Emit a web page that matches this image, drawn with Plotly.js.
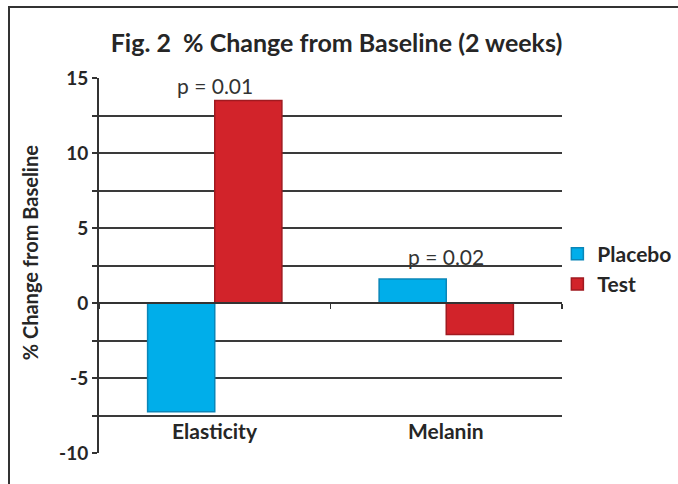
<!DOCTYPE html>
<html>
<head>
<meta charset="utf-8">
<script src="https://cdn.plot.ly/plotly-3.0.1.min.js"></script>
<style>
  html, body { margin: 0; padding: 0; overflow: hidden; background: #fff; }
  #chart { position: absolute; left: 0; top: 0; width: 678px; height: 484px; }
  #frame { position: absolute; left: 8px; top: 6px; width: 700px; height: 500px;
           border: 2px solid #333; pointer-events: none; }
</style>
</head>
<body>
<div id="chart"></div>
<div id="frame"></div>
<script>
// ---- data ----
const categories = ['Elasticity', 'Melanin'];
const placebo = [-7.25, 1.6];
const test = [13.5, -2.1];
const seriesNames = ['Placebo', 'Test'];
const pLabels = ['p = 0.01', 'p = 0.02'];
const pY = [14.5, 3.1];
const categoryLabelY = -8.5;
const yTickVals = [-10, -7.5, -5, -2.5, 0, 2.5, 5, 7.5, 10, 12.5, 15];
const yTickText = ['-10', '', '-5', '', '0', '', '5', '', '10', '', '15'];

const FONT = 'Lato, "DejaVu Sans", sans-serif';
const DARK = '#262626';

const traces = [
  {
    type: 'bar', name: seriesNames[0], x: categories, y: placebo,
    marker: { color: '#00AEEA', line: { color: '#0A86B8', width: 1.5 } }
  },
  {
    type: 'bar', name: seriesNames[1], x: categories, y: test,
    marker: { color: '#D2232A', line: { color: '#A01A20', width: 1.5 } }
  }
];

const annotations = [];
categories.forEach((c, i) => {
  annotations.push({
    x: c, y: pY[i], xref: 'x', yref: 'y', text: pLabels[i], showarrow: false,
    font: { family: FONT, size: 21, color: '#333', weight: 'normal' }, yanchor: 'middle'
  });
  annotations.push({
    x: c, y: categoryLabelY, xref: 'x', yref: 'y', text: '<b>' + c + '</b>', showarrow: false,
    font: { family: FONT, size: 21, color: DARK }, yanchor: 'middle'
  });
});

const layout = {
  width: 678, height: 484,
  margin: { l: 99, r: 116, t: 78, b: 31, autoexpand: false },
  paper_bgcolor: '#fff', plot_bgcolor: '#fff',
  barmode: 'group', bargap: 0.42, bargroupgap: 0,
  title: {
    text: '<b>Fig. 2  % Change from Baseline (2 weeks)</b>',
    font: { family: FONT, size: 25, color: DARK },
    x: 0.513, xanchor: 'center', xref: 'paper', y: 0.91, yanchor: 'middle'
  },
  xaxis: {
    type: 'category', anchor: 'free', position: 0.4,
    showline: true, linecolor: '#333', linewidth: 2,
    ticks: 'outside', tickson: 'boundaries', ticklen: 5, tickcolor: '#333', tickwidth: 1.5,
    showticklabels: false, showgrid: false, zeroline: false
  },
  yaxis: {
    range: [-10, 15], tickmode: 'array', tickvals: yTickVals, ticktext: yTickText,
    showgrid: true, gridcolor: '#3a3a3a', gridwidth: 2,
    zeroline: false, showline: true, linecolor: '#333', linewidth: 2,
    ticks: 'outside', ticklen: 5, tickcolor: '#333', tickwidth: 2,
    tickfont: { family: FONT, size: 19, color: DARK, weight: 'bold' },
    title: { text: '&nbsp;&nbsp;&nbsp;&nbsp;&nbsp;<b>% Change from Baseline</b>', font: { family: FONT, size: 20, color: DARK }, standoff: 15 }
  },
  legend: {
    x: 0.99, y: 0.585, xanchor: 'left', yanchor: 'top',
    font: { family: FONT, size: 21, color: DARK, weight: 'bold' },
    bgcolor: 'rgba(0,0,0,0)', tracegroupgap: 0, itemwidth: 30
  },
  annotations: annotations,
  showlegend: true
};

Plotly.newPlot('chart', traces, layout, { displayModeBar: false, staticPlot: true });
</script>
</body>
</html>
